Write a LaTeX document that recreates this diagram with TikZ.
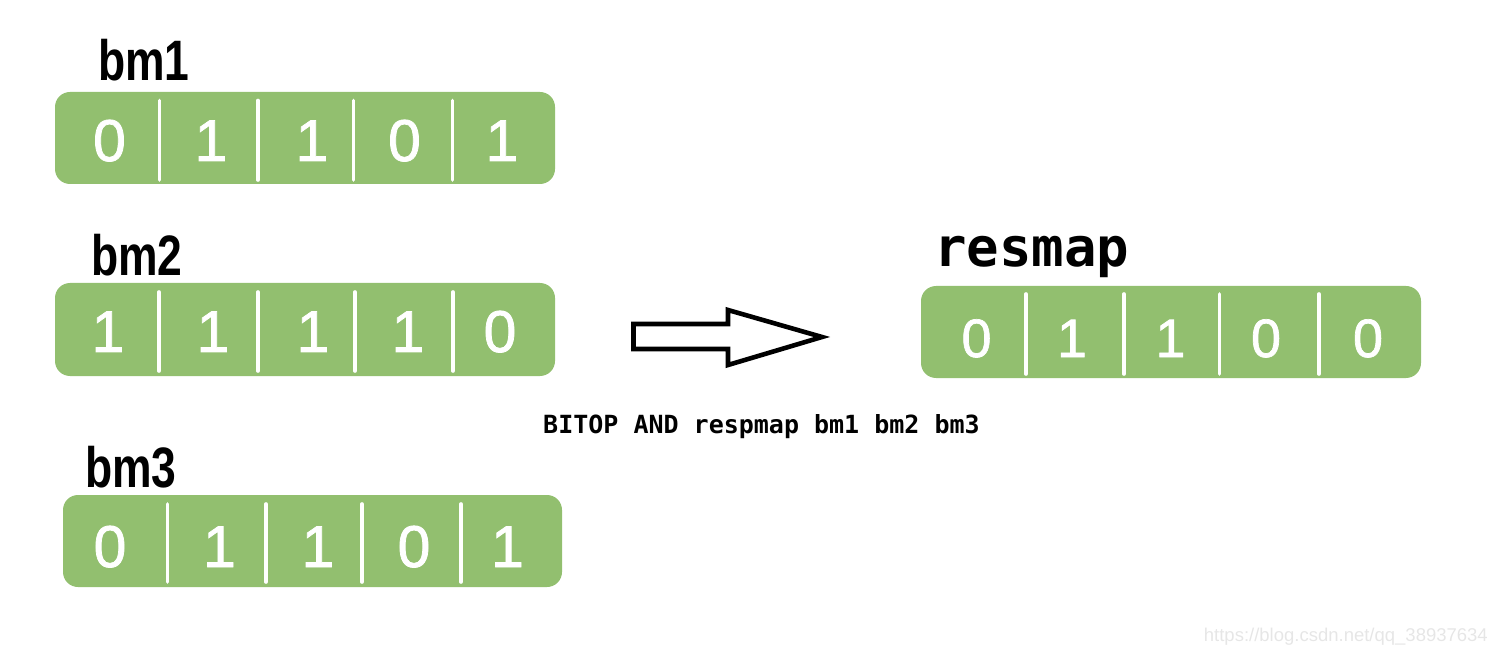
\documentclass[tikz,border=0pt]{standalone}
\usepackage{fontspec}
\setmainfont{Liberation Sans}
\newfontfamily\monofam{DejaVu Sans Mono}
\newfontfamily\digitfont{Liberation Sans}[FakeBold=1.3]
\definecolor{bitgreen}{RGB}{146,191,111}
\definecolor{wmgray}{RGB}{230,230,230}
\tikzset{
  bitbox/.style={fill=bitgreen, draw=none, rounded corners=15pt},
  divider/.style={white, line width=3.6pt, line cap=round},
  digit/.style={text=white, inner sep=0pt, anchor=base, font=\digitfont\fontsize{59}{59}\selectfont},
  rdigit/.style={digit, font=\digitfont\fontsize{54}{54}\selectfont},
  maplabel/.style={inner sep=0pt, anchor=base west, font=\bfseries\fontsize{57}{57}\selectfont},
  monolabel/.style={inner sep=0pt, anchor=base west, font=\monofam\bfseries\fontsize{54}{54}\selectfont},
  cmdtext/.style={inner sep=0pt, anchor=base west, font=\monofam\bfseries\fontsize{25}{25}\selectfont},
  wmtext/.style={inner sep=0pt, anchor=base east, text=wmgray, font=\fontsize{18.5}{18.5}\selectfont},
  blockarrow/.style={draw=black, line width=4.6pt, fill=white, miter limit=20},
}
\begin{document}
\begin{tikzpicture}[x=1pt,y=-1pt]
\useasboundingbox (0,0) rectangle (1497,652);

% bm1
\node[maplabel] (l1) at (98,81) {\scalebox{0.78}[1]{bm1}};
\fill[bitbox] (55,92) rectangle (555,184);
\foreach \x in {159.5,258,353.5,452.5} \draw[divider] (\x,100.5) -- (\x,180);
\foreach \x/\d [count=\i] in {109.5/0,211/1,312/1,404.5/0,502/1}
  \node[digit] (a\i) at (\x,161) {\d};

% bm2
\node[maplabel] (l2) at (91,276) {\scalebox{0.78}[1]{bm2}};
\fill[bitbox] (55,283) rectangle (555,376);
\foreach \x in {159,258,355,453} \draw[divider] (\x,292) -- (\x,371);
\foreach \x/\d [count=\i] in {108/1,213/1,313/1,408/1,500/0}
  \node[digit] (b\i) at (\x,352) {\d};

% bm3
\node[maplabel] (l3) at (85,487) {\scalebox{0.78}[1]{bm3}};
\fill[bitbox] (63,495) rectangle (562,587);
\foreach \x in {167.5,266,362,461} \draw[divider] (\x,504) -- (\x,582);
\foreach \x/\d [count=\i] in {110/0,219.5/1,318/1,414/0,507.5/1}
  \node[digit] (c\i) at (\x,567) {\d};

% resmap
\node[monolabel] (lr) at (934,267) {resmap};
\fill[bitbox] (921,286) rectangle (1421,378);
\foreach \x in {1026,1124,1219.5,1319} \draw[divider] (\x,294) -- (\x,374);
\foreach \x/\d [count=\i] in {976.5/0,1072/1,1170.5/1,1266/0,1368/0}
  \node[rdigit] (r\i) at (\x,357) {\d};

% block arrow
\draw[blockarrow] (633.5,324) -- (728,324) -- (728,310) -- (822,337) -- (728,365) -- (728,349) -- (633.5,349) -- cycle;

% command
\node[cmdtext] (cmd) at (543,433) {BITOP AND respmap bm1 bm2 bm3};

% watermark
\node[wmtext] (wm) at (1488,641) {https://blog.csdn.net/qq\_38937634};
\end{tikzpicture}
\end{document}
